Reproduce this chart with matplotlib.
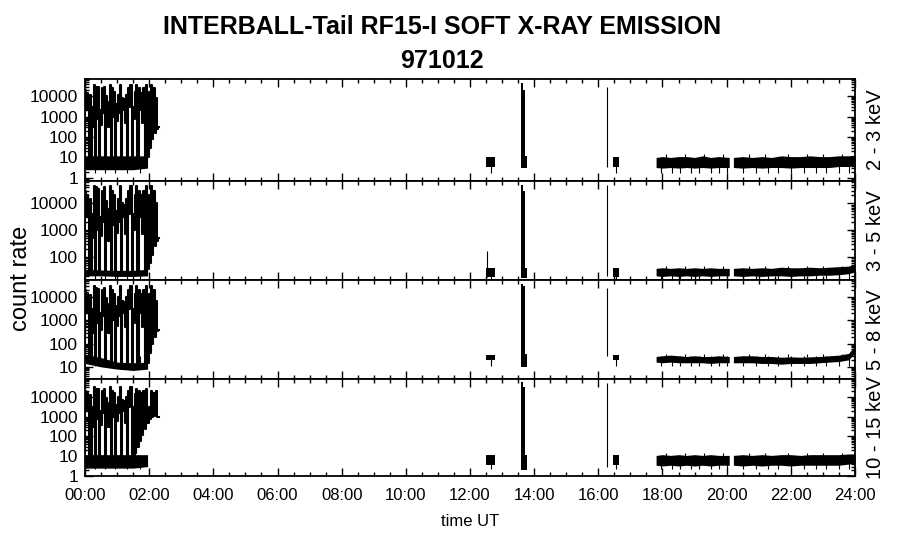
import matplotlib
matplotlib.use("Agg")
import matplotlib.pyplot as plt
from matplotlib.ticker import MultipleLocator, LogLocator, FuncFormatter, NullFormatter

plt.rcParams['font.family'] = ['Liberation Sans', 'DejaVu Sans']

# --- data (time in hours UT, counts) ---
bands = ['2 - 3 keV', '3 - 5 keV', '5 - 8 keV', '10 - 15 keV']
ylims = [(0.7, 70000), (14, 68000), (3, 55000), (1, 80000)]

# early burst period: alternating troughs / peaks
early_t = [0.00, 0.02, 0.04, 0.07, 0.09, 0.11, 0.14, 0.16, 0.20, 0.23,
           0.26, 0.29, 0.32, 0.36, 0.39, 0.42, 0.46, 0.49, 0.51, 0.53,
           0.57, 0.60, 0.64, 0.66, 0.69, 0.71, 0.75, 0.78, 0.82, 0.86,
           0.90, 0.93, 0.96, 0.98, 1.02, 1.05, 1.08, 1.11, 1.15, 1.18,
           1.21, 1.23, 1.26, 1.28, 1.32, 1.35, 1.39, 1.43, 1.47, 1.50,
           1.53, 1.56, 1.59, 1.61, 1.65, 1.69, 1.73, 1.77, 1.80, 1.84,
           1.88, 1.92, 1.96, 2.00, 2.04, 2.08, 2.11, 2.15, 2.19, 2.23, 2.27, 2.30]
early_c1 = [6, 20000, 2000, 15000, 3000, 9000, 5, 12000, 4, 3000,
            300, 35000, 5, 30000, 800, 28000, 4, 2000, 400, 25000,
            1500, 30000, 5, 10000, 2000, 5000, 300, 34000, 6, 24000,
            1000, 16000, 5, 4000, 600, 11000, 1500, 34000, 5, 8000,
            2000, 7000, 500, 12000, 6, 24000, 3000, 34000, 4, 3000,
            800, 16000, 1200, 34000, 5, 24000, 2000, 15000, 500, 24000,
            6, 34000, 10, 16000, 30, 34000, 80, 24000, 150, 8000, 250, 300]
early_c2 = [30, 30000, 3000, 20000, 4000, 12000, 25, 15000, 22, 4000,
            500, 45000, 25, 40000, 1000, 35000, 22, 3000, 600, 30000,
            2000, 40000, 25, 12000, 3000, 6000, 400, 45000, 25, 30000,
            1500, 20000, 22, 5000, 800, 14000, 2000, 45000, 22, 10000,
            3000, 9000, 700, 15000, 25, 30000, 4000, 45000, 22, 4000,
            1000, 20000, 1500, 45000, 22, 30000, 3000, 20000, 700, 30000,
            25, 45000, 35, 20000, 60, 45000, 120, 30000, 250, 10000, 400, 500]
early_c3 = [25, 20000, 2000, 15000, 3000, 9000, 20, 12000, 18, 3000,
            300, 30000, 16, 25000, 800, 22000, 14, 2000, 400, 20000,
            1500, 25000, 12, 9000, 2000, 5000, 300, 30000, 11, 20000,
            1000, 14000, 10, 4000, 600, 10000, 1500, 30000, 10, 7000,
            2000, 6000, 500, 10000, 10, 20000, 3000, 30000, 10, 3000,
            800, 14000, 1200, 30000, 10, 20000, 2000, 14000, 500, 20000,
            11, 30000, 15, 14000, 40, 30000, 100, 20000, 200, 7000, 350, 400]
early_c4 = [6, 20000, 2000, 15000, 3000, 9000, 5, 12000, 4, 3000,
            300, 30000, 5, 25000, 800, 25000, 4, 2000, 400, 20000,
            1500, 25000, 5, 9000, 2000, 5000, 300, 30000, 6, 20000,
            1000, 15000, 5, 4000, 600, 10000, 1500, 30000, 5, 7000,
            2000, 6000, 500, 10000, 6, 20000, 3000, 30000, 4, 3000,
            10, 14000, 15, 25000, 30, 20000, 60, 15000, 120, 20000,
            250, 25000, 500, 3000, 800, 20000, 1000, 15000, 1100, 20000, 1000, 1000]

# background band under the early bursts
base_t = [0.0, 0.5, 1.0, 1.5, 1.95]
base_lo = [[2.5, 2.5, 2.5, 2.5, 3], [20, 20, 19, 19, 20], [14, 10, 8, 7, 8], [2.5, 2.5, 2.5, 2.5, 3]]
base_hi = [[12, 12, 12, 12, 12], [35, 33, 32, 32, 35], [35, 25, 16, 15, 16], [12, 12, 12, 12, 12]]

# short noise segments (start, end) and their low / high level per channel
short_seg = [(12.50, 12.78), (16.46, 16.65)]
short_lo = [3.5, 18, 20, 3.5]
short_hi = [11, 40, 32, 11]

# the strong event near 13:40
big_t = [13.59, 13.65, 13.72, 13.78]
big_hi = [[43000, 20000, 12, 12], [48000, 30000, 40, 40], [36000, 30000, 35, 35], [56000, 30000, 12, 12]]
big_lo = [3, 16, 10, 2]

# single spike at 16:17
spike_t = 16.28
spike_lo = [3.5, 19, 30, 3]
spike_hi = [30000, 48000, 24000, 50000]

# one extra spike on the 3-5 keV channel near 12:32
extra_t, extra_hi = 12.54, 170

# long quiet segments after 17:45
segc_t = [17.80, 18.00, 18.25, 18.50, 18.75, 19.00, 19.25, 19.50, 19.75, 20.08]
segc_hi = [[10, 11, 10, 11, 11, 10, 12, 10, 11, 10],
           [38, 40, 38, 40, 38, 40, 38, 40, 38, 38],
           [28, 30, 32, 30, 28, 30, 28, 28, 30, 28],
           [11, 12, 11, 12, 11, 12, 11, 12, 11, 11]]
segc_lo = [[3.2, 3, 3.2, 3, 3.2, 3, 3.2, 3, 3.2, 3.2],
           [20, 19, 20, 19, 20, 19, 20, 19, 20, 20],
           [16, 15, 16, 15, 15, 15, 15, 14, 15, 15],
           [3.5, 3.2, 3.5, 3.2, 3.5, 3.2, 3.5, 3.2, 3.5, 3.5]]
segd_t = [20.21, 20.50, 20.80, 21.10, 21.40, 21.70, 22.00, 22.30, 22.60, 22.90, 23.20, 23.50, 23.80, 24.00]
segd_hi = [[10, 11, 10, 11, 10, 12, 11, 11, 12, 11, 11, 12, 12, 13],
           [38, 40, 38, 40, 38, 42, 40, 40, 42, 40, 42, 44, 46, 55],
           [28, 30, 30, 28, 28, 26, 27, 26, 27, 28, 30, 32, 38, 80],
           [11, 12, 11, 12, 11, 12, 12, 11, 12, 12, 12, 12, 13, 13]]
segd_lo = [[3.2, 3, 3.2, 3, 3.2, 3.2, 3, 3.2, 3.2, 3.2, 3.2, 3.6, 3.6, 4],
           [20, 19, 20, 19, 20, 20, 19, 20, 20, 21, 21, 22, 24, 28],
           [15, 15, 15, 14, 14, 13, 14, 14, 14, 15, 16, 17, 20, 40],
           [3.5, 3.2, 3.5, 3.2, 3.5, 3.5, 3.2, 3.5, 3.5, 3.5, 3.5, 3.5, 4, 4.5]]
# small dips and blips sticking out of the noise bands
dip_t = [17.95, 18.30, 18.55, 18.90, 19.15, 19.50, 19.75, 20.00, 20.50, 20.90,
         21.30, 21.60, 22.00, 22.40, 22.80, 23.10, 23.50, 23.80, 16.55, 12.65,
         0.30, 0.62, 0.95, 1.30, 1.70]
dip_lo = [1.8, 15, 11, 2.2]
blip_t = [18.10, 18.70, 19.30, 19.90, 20.70, 21.20, 21.90, 22.50, 23.00, 23.60]
blip_hi = [14, 48, 36, 15]

early = [early_c1, early_c2, early_c3, early_c4]

# --- figure ---
fig = plt.figure(figsize=(9, 5.48), dpi=100)
W, H = 900, 548
left, right = 85, 855
edges = [79, 181, 280, 379, 476]

for i in range(4):
    top, bot = edges[i], edges[i + 1]
    ax = fig.add_axes([left / W, 1 - bot / H, (right - left) / W, (bot - top) / H])
    k = dict(color='black', lw=0.8)

    ax.fill_between(base_t, base_lo[i], base_hi[i], color='black', lw=0)
    ax.plot(early_t, early[i], color='black', lw=1.5, drawstyle='steps-mid')

    for t0, t1 in short_seg:
        ax.fill_between([t0, t1], short_lo[i], short_hi[i], color='black', lw=0)
    if i == 1:
        ax.vlines(extra_t, short_lo[i], extra_hi, **k)

    ax.fill_between(big_t, big_lo[i], big_hi[i], step='post', color='black', lw=0)
    ax.vlines(spike_t, spike_lo[i], spike_hi[i], **k)

    ax.fill_between(segc_t, segc_lo[i], segc_hi[i], color='black', lw=0)
    ax.fill_between(segd_t, segd_lo[i], segd_hi[i], color='black', lw=0)
    ax.vlines(dip_t, dip_lo[i], short_lo[i] * 1.5, **k)
    ax.vlines(blip_t, short_hi[i] * 0.8, blip_hi[i], **k)

    ax.set_xlim(0, 24)
    ax.set_yscale('log')
    ax.set_ylim(*ylims[i])
    ax.xaxis.set_major_locator(MultipleLocator(2))
    ax.xaxis.set_minor_locator(MultipleLocator(0.5))
    ax.yaxis.set_major_locator(LogLocator(base=10, numticks=10))
    ax.yaxis.set_minor_locator(LogLocator(base=10, subs=range(2, 10), numticks=20))
    ax.yaxis.set_major_formatter(FuncFormatter(lambda v, p: f"{v:.0f}"))
    ax.yaxis.set_minor_formatter(NullFormatter())
    ax.tick_params(which='both', direction='in', top=True, right=True, width=1)
    ax.tick_params(which='major', length=6, labelsize=12.5, pad=5)
    ax.tick_params(which='minor', length=3)
    for s in ax.spines.values():
        s.set_linewidth(1.3)
    if i < 3:
        ax.set_xticklabels([])
    else:
        ax.xaxis.set_major_formatter(FuncFormatter(lambda v, p: f"{int(v):02d}:00"))
        ax.tick_params(axis='x', which='major', pad=9, labelsize=12)
    ax.text(1.027, 0.5, bands[i], transform=ax.transAxes, rotation=90,
            ha='center', va='center', fontsize=14.5)

fig.text(442 / W, 1 - 27 / H, 'INTERBALL-Tail RF15-I SOFT X-RAY EMISSION',
         ha='center', va='center', fontsize=18, fontweight='bold')
fig.text(442 / W, 1 - 61 / H, '971012', ha='center', va='center', fontsize=18, fontweight='bold')
fig.text(21 / W, 1 - 278 / H, 'count rate', rotation=90, ha='center', va='center', fontsize=17)
fig.text(470 / W, 1 - 522 / H, 'time UT', ha='center', va='center', fontsize=12)

fig.savefig('out.png', dpi=100)
